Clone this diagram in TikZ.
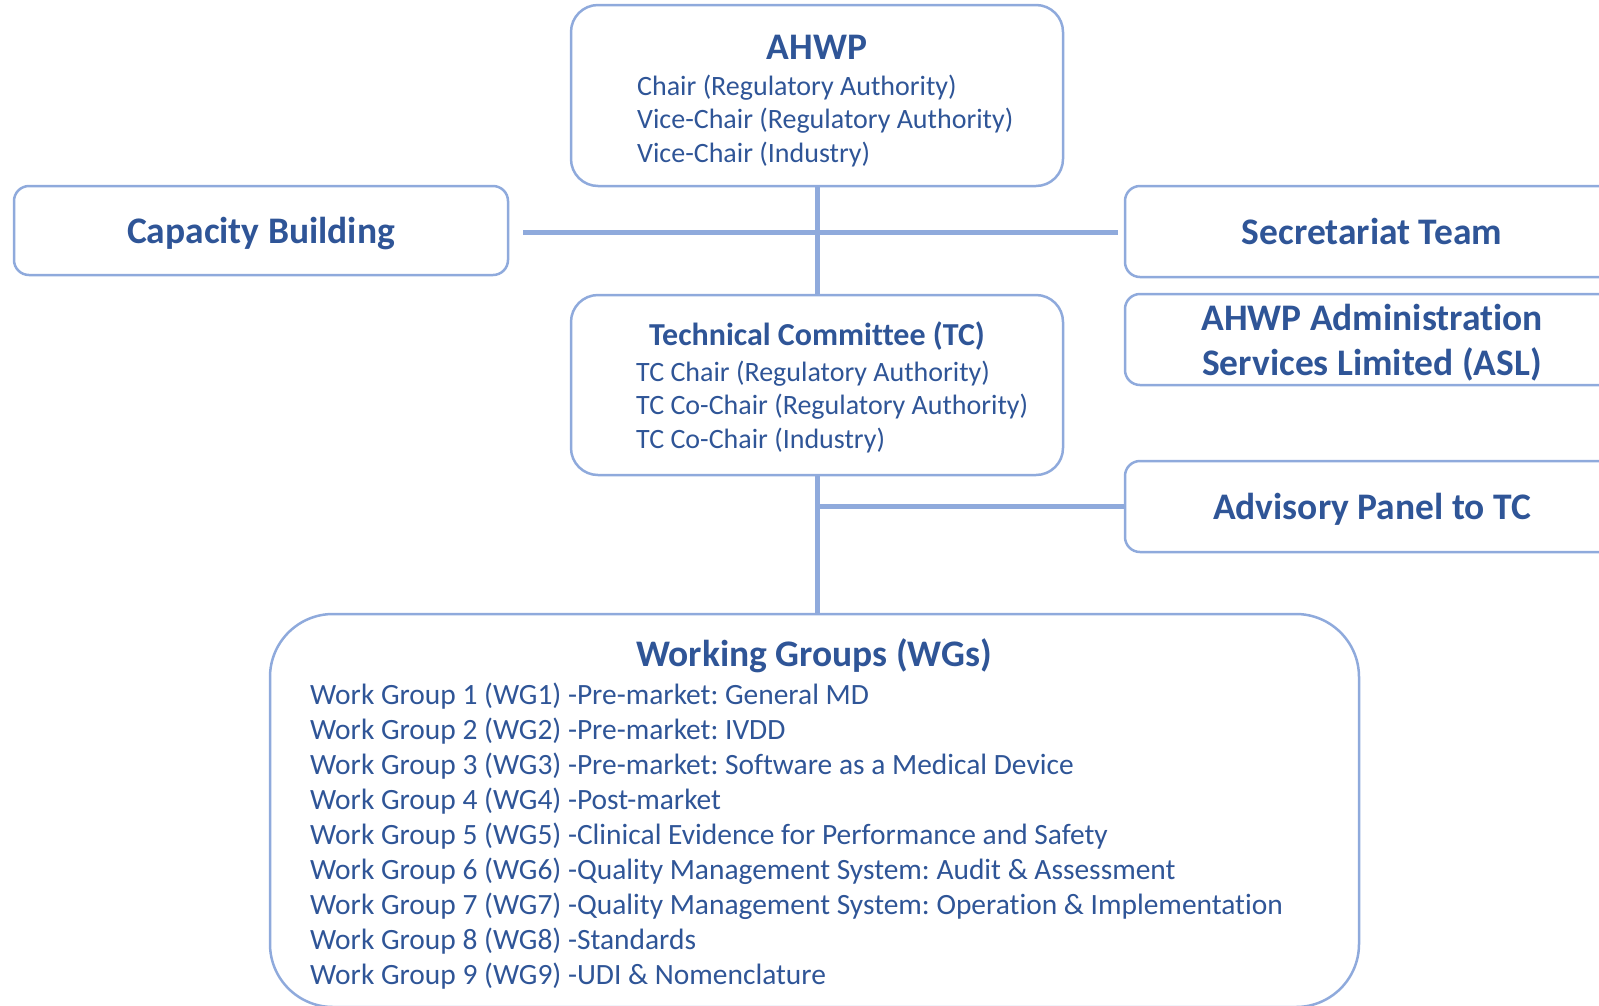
\documentclass[tikz,border=0pt]{standalone}
\usepackage{fontspec}
\setmainfont{Carlito}[Ligatures={NoCommon}]
\frenchspacing
\usetikzlibrary{positioning}
\definecolor{ahwpblue}{HTML}{2F5597}
\definecolor{ahwpline}{HTML}{8FAADC}

\begin{document}
\begin{tikzpicture}[x=1pt,y=-1pt,
	  box node/.style={draw=ahwpline,line width=2.5pt,rounded corners=15pt,inner sep=0pt,text depth=0pt,
	    text=ahwpblue,font=\bfseries\fontsize{37.5}{45}\selectfont,align=center},
	  big node/.style={box node,rounded corners=27pt},
	  title node/.style={text=ahwpblue,inner sep=0pt,font=\bfseries\fontsize{37.5}{42}\selectfont},
	  list node/.style={text=ahwpblue,inner sep=0pt,anchor=west,align=left,
	    font=\fontsize{28}{33.7}\selectfont},
	  link/.style={draw=ahwpline,line width=5pt}]

	  \useasboundingbox (0,0) rectangle (1599,1005);
	  \clip (0,0) rectangle (1599,1005);

	  % boxes
	  \node[big node,minimum width=492pt,minimum height=181pt] (ahwp) at (817,95.5) {};
	  \node[big node,minimum width=492pt,minimum height=180pt] (tc) at (817,385) {};
	  \node[box node,minimum width=494pt,minimum height=89pt] (cap) at (261,230.5) {Capacity Building};
	  \node[box node,minimum width=494pt,minimum height=91pt] (sec) at (1372,231.5) {Secretariat Team};
	  \node[box node,minimum width=494pt,minimum height=91pt] (asl) at (1372,339.5)
	    {AHWP Administration\\Services Limited (ASL)};
	  \node[box node,minimum width=494pt,minimum height=91pt] (adv) at (1372,506.5) {Advisory Panel to TC};
	  \node[box node,rounded corners=63pt,minimum width=1089pt,minimum height=393pt] (wg) at (814.5,810.5) {};

	  % texts
	  \node[title node] (ahwptitle) at (817,47) {AHWP};
	  \node[list node] (ahwplist) at (637,121)
	    {Chair (Regulatory Authority)\\Vice-Chair (Regulatory Authority)\\Vice-Chair (Industry)};
	  \node[title node,font=\bfseries\fontsize{32}{36}\selectfont] (tctitle) at (817,336.5) {Technical Committee (TC)};
	  \node[list node] (tclist) at (636,407)
	    {TC Chair (Regulatory Authority)\\TC Co-Chair (Regulatory Authority)\\TC Co-Chair (Industry)};
	  \node[title node] (wgtitle) at (814,656) {Working Groups (WGs)};
	  \node[list node,font=\fontsize{29.45}{35.1}\selectfont] (wglist) at (310,836)
	    {Work Group 1 (WG1) -Pre-market: General MD\\
	     Work Group 2 (WG2) -Pre-market: IVDD\\
	     Work Group 3 (WG3) -Pre-market: Software as a Medical Device\\
	     Work Group 4 (WG4) -Post-market\\
	     Work Group 5 (WG5) -Clinical Evidence for Performance and Safety\\
	     Work Group 6 (WG6) -Quality Management System: Audit \& Assessment\\
	     Work Group 7 (WG7) -Quality Management System: Operation \& Implementation\\
	     Work Group 8 (WG8) -Standards\\
	     Work Group 9 (WG9) -UDI \& Nomenclature};

	  % connectors
	  \path[link] (ahwp.south) -- (tc.north);
	  \path[link,shorten <=14pt,shorten >=6pt] ([yshift=-1.5pt]cap.east) -- ([yshift=-1.5pt]cap.east -| sec.west);
	  \path[link] (tc.south) -- (tc.south |- wg.north);
	  \path[link] (tc.south |- adv.west) -- (adv.west);

	\end{tikzpicture}
\end{document}
